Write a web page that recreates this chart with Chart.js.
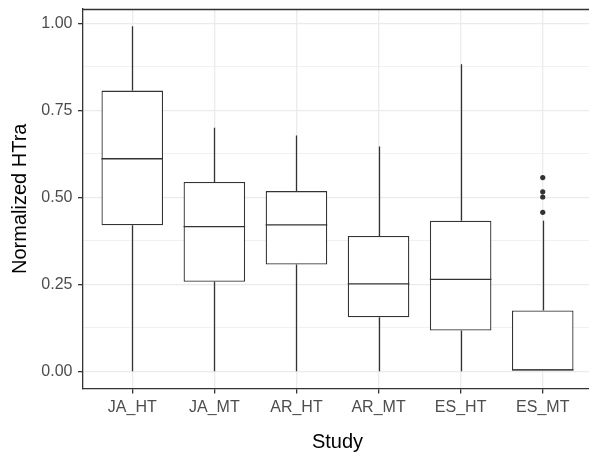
<!DOCTYPE html>
<html>
<head>
<meta charset="utf-8">
<script src="https://cdn.jsdelivr.net/npm/chart.js@4/dist/chart.umd.min.js"></script>
<style>
  html, body { margin: 0; padding: 0; background: #fff; overflow: hidden; }
  #wrap { width: 596px; height: 454px; }
</style>
</head>
<body>
<div id="wrap"><canvas id="boxChart"></canvas></div>
<script>
// Box plot summaries per study
const studies = ['JA_HT', 'JA_MT', 'AR_HT', 'AR_MT', 'ES_HT', 'ES_MT'];
const lowerWhisker = [0, 0, 0, 0, 0, 0];
const q1 = [0.420, 0.257, 0.307, 0.155, 0.117, 0];
const median = [0.611, 0.416, 0.421, 0.251, 0.264, 0];
const q3 = [0.807, 0.544, 0.518, 0.389, 0.433, 0.175];
const upperWhisker = [0.992, 0.700, 0.678, 0.646, 0.883, 0.433];

// Outlying points (study, value)
const outlierStudy = ['ES_MT', 'ES_MT', 'ES_MT', 'ES_MT'];
const outlierValue = [0.557, 0.516, 0.501, 0.457];

const yTicks = [0, 0.25, 0.5, 0.75, 1];

const ink = '#333333';
const lineW = 1.3;
const fontFamily = "'Liberation Sans', Arial, Helvetica, sans-serif";

// whiskers under the boxes, medians on top
const boxParts = {
    id: 'boxParts',
    beforeDatasetsDraw(chart) {
        const { ctx, scales: { x, y } } = chart;
        ctx.save();
        ctx.strokeStyle = ink;
        ctx.lineWidth = lineW;
        studies.forEach((s, i) => {
            const px = Math.round(x.getPixelForValue(i + 1)) + 0.5;
            ctx.beginPath();
            ctx.moveTo(px, y.getPixelForValue(lowerWhisker[i]));
            ctx.lineTo(px, y.getPixelForValue(q1[i]));
            ctx.moveTo(px, y.getPixelForValue(q3[i]));
            ctx.lineTo(px, y.getPixelForValue(upperWhisker[i]));
            ctx.stroke();
        });
        ctx.restore();
    },
    afterDatasetsDraw(chart) {
        const { ctx, scales: { y } } = chart;
        const bars = chart.getDatasetMeta(0).data;
        ctx.save();
        ctx.strokeStyle = ink;
        ctx.lineWidth = lineW;
        bars.forEach((bar, i) => {
            // bar borders sit inside the box, so keep the median line there too
            const top = Math.min(bar.y, bar.base) + lineW / 2;
            const bottom = Math.max(bar.y, bar.base) - lineW / 2;
            const py = Math.min(bottom, Math.max(top, y.getPixelForValue(median[i])));
            ctx.beginPath();
            ctx.moveTo(bar.x - bar.width / 2, py);
            ctx.lineTo(bar.x + bar.width / 2, py);
            ctx.stroke();
        });
        ctx.restore();
    },
    afterDraw(chart) {
        // panel border along the top
        const { ctx, chartArea } = chart;
        ctx.save();
        ctx.strokeStyle = ink;
        ctx.lineWidth = lineW;
        ctx.beginPath();
        ctx.moveTo(chartArea.left, Math.round(chartArea.top) + 0.5);
        ctx.lineTo(chartArea.right, Math.round(chartArea.top) + 0.5);
        ctx.stroke();
        ctx.restore();
    }
};

const ctx = document.getElementById('boxChart').getContext('2d');
const boxChart = new Chart(ctx, {
    type: 'bar',
    data: {
        datasets: [{
            type: 'bar',
            label: 'IQR',
            data: studies.map((s, i) => ({ x: i + 1, y: [q1[i], q3[i]] })),
            backgroundColor: '#ffffff',
            borderColor: ink,
            borderWidth: lineW,
            borderSkipped: false,
            categoryPercentage: 0.75,
            barPercentage: 1
        }, {
            type: 'scatter',
            label: 'Outliers',
            data: outlierValue.map((v, i) => ({ x: studies.indexOf(outlierStudy[i]) + 1, y: v })),
            pointRadius: 2.6,
            pointBackgroundColor: ink,
            pointBorderWidth: 0
        }]
    },
    options: {
        responsive: true,
        maintainAspectRatio: false,
        animation: false,
        layout: { padding: { top: 9, left: 0, right: 0, bottom: 0 } },
        plugins: {
            legend: { display: false },
            tooltip: { enabled: false }
        },
        scales: {
            x: {
                type: 'linear',
                min: 0.4,
                max: 6.6,
                offset: false,
                afterBuildTicks: scale => {
                    scale.ticks = studies.map((s, i) => ({ value: i + 1 }));
                },
                afterFit: scale => {
                    scale.height = 65.5;
                    scale.paddingLeft = 0;
                    scale.paddingRight = 0;
                },
                grid: {
                    offset: false,
                    color: '#ebebeb',
                    lineWidth: 1.3,
                    tickColor: ink,
                    tickLength: 5
                },
                border: { display: true, color: ink, width: lineW },
                ticks: {
                    autoSkip: false,
                    maxRotation: 0,
                    padding: 4.5,
                    color: '#4d4d4d',
                    font: { family: fontFamily, size: 16 },
                    callback: v => studies[Math.round(v) - 1]
                },
                title: {
                    display: true,
                    text: 'Study',
                    color: '#000',
                    font: { family: fontFamily, size: 20 },
                    padding: { top: 0, bottom: 0 }
                }
            },
            y: {
                type: 'linear',
                min: -0.0496,
                max: 1.0416,
                beginAtZero: false,
                afterBuildTicks: scale => {
                    // major ticks plus the minor lines halfway between
                    const t = [];
                    yTicks.forEach((v, i) => {
                        t.push({ value: v, major: true });
                        if (i < yTicks.length - 1) t.push({ value: (v + yTicks[i + 1]) / 2, major: false });
                    });
                    scale.ticks = t;
                },
                afterFit: scale => {
                    scale.width = 83;
                    scale.paddingTop = 0;
                    scale.paddingBottom = 0;
                },
                grid: {
                    color: '#ebebeb',
                    lineWidth: c => (c.index % 2 === 0 ? 1.3 : 0.7),
                    tickColor: c => (c.index % 2 === 0 ? ink : 'rgba(0,0,0,0)'),
                    tickLength: 5
                },
                border: { display: true, color: ink, width: lineW },
                ticks: {
                    padding: 5.5,
                    color: '#4d4d4d',
                    font: { family: fontFamily, size: 16 },
                    callback: (v, i) => (i % 2 === 0 ? v.toFixed(2) : '')
                },
                title: {
                    display: true,
                    text: 'Normalized HTra',
                    color: '#000',
                    font: { family: fontFamily, size: 20 },
                    padding: { top: 8, bottom: 0 }
                }
            }
        }
    },
    plugins: [boxParts]
});
</script>
</body>
</html>
